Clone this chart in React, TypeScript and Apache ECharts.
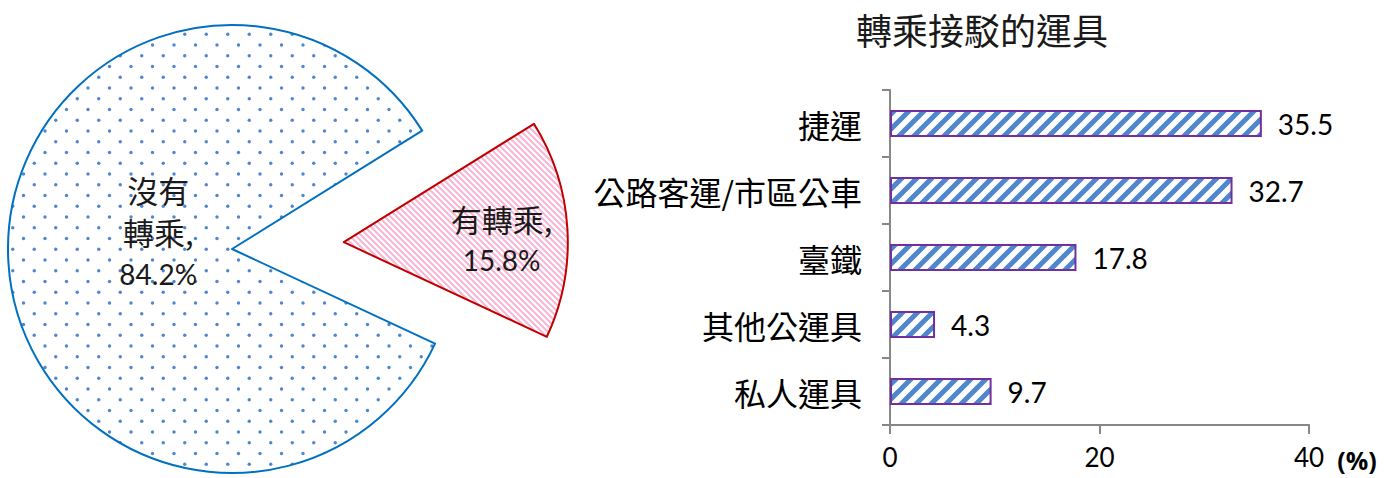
import React, { useEffect, useRef } from 'react';
import * as echarts from 'echarts';

const pieNames = ['有轉乘', '沒有轉乘'];
const pieValues = [15.8, 84.2];
const categories = ['捷運', '公路客運/市區公車', '臺鐵', '其他公運具', '私人運具'];
const barValues = [35.5, 32.7, 17.8, 4.3, 9.7];
const xTicks = [0, 20, 40];
const chartTitle = '轉乘接駁的運具';
const unitLabel = '(%)';

const CJK = "'Noto Sans CJK TC', sans-serif";
const NUM = "Lato, 'Noto Sans CJK TC', sans-serif";

function makeTile(w: number, h: number, draw: (ctx: CanvasRenderingContext2D) => void) {
  const c = document.createElement('canvas');
  c.width = w;
  c.height = h;
  const ctx = c.getContext('2d')!;
  ctx.fillStyle = '#ffffff';
  ctx.fillRect(0, 0, w, h);
  draw(ctx);
  return { image: c, repeat: 'repeat', imageWidth: w, imageHeight: h } as any;
}

function dotPattern() {
  return makeTile(43, 43, (ctx) => {
    ctx.fillStyle = '#4f86d0';
    const rows = [2, 12.75, 23.5, 34.25];
    rows.forEach((y, i) => {
      const x0 = i % 2 === 0 ? 2 : 12.75;
      [x0, x0 + 21.5].forEach((x) => {
        ctx.beginPath();
        ctx.arc(x, y, 1.7, 0, Math.PI * 2);
        ctx.fill();
      });
    });
  });
}

function pinkStripes() {
  return makeTile(6, 6, (ctx) => {
    ctx.strokeStyle = '#f8b6d5';
    ctx.lineWidth = 2;
    ctx.beginPath();
    ctx.moveTo(-1, -1); ctx.lineTo(7, 7);
    ctx.moveTo(5, -1); ctx.lineTo(7, 1);
    ctx.moveTo(-1, 5); ctx.lineTo(1, 7);
    ctx.stroke();
  });
}

function blueStripes() {
  return makeTile(15, 15, (ctx) => {
    ctx.strokeStyle = '#4f86cc';
    ctx.lineWidth = 5;
    ctx.beginPath();
    ctx.moveTo(-1, 16); ctx.lineTo(16, -1);
    ctx.moveTo(-3, 3); ctx.lineTo(3, -3);
    ctx.moveTo(12, 18); ctx.lineTo(18, 12);
    ctx.stroke();
  });
}

const pieRich = {
  c: { fontSize: 31, fontFamily: CJK, color: '#1a1a1a', lineHeight: 42 },
  n: { fontSize: 28, fontFamily: NUM, color: '#1a1a1a', lineHeight: 42 },
};

function pieLabel(p: any) {
  const name: string = p.name.length > 3 ? p.name.slice(0, 2) + '\n' + p.name.slice(2) : p.name;
  const lines = (name + ',').split('\n').map((s) => `{c|${s}}`).join('\n');
  return lines + '\n{n|' + Number(p.value).toFixed(1) + '%}';
}

function pieSeries(visibleIndex: number, center: number[], color: any, border: string, dx: number, dy: number) {
  return {
    type: 'pie',
    radius: 224,
    center,
    startAngle: 31.9,
    clockwise: true,
    silent: true,
    avoidLabelOverlap: false,
    emphasis: { disabled: true },
    labelLine: { show: false },
    labelLayout: { dx, dy },
    data: pieNames.map((name, i) =>
      i === visibleIndex
        ? {
            name,
            value: pieValues[i],
            itemStyle: { color, borderColor: border, borderWidth: 2 },
            label: { show: true, position: 'inside', formatter: pieLabel, rich: pieRich },
          }
        : {
            name,
            value: pieValues[i],
            itemStyle: { color: 'rgba(0,0,0,0)', borderWidth: 0 },
            label: { show: false },
          }
    ),
  };
}

export default function App() {
  const ref = useRef<HTMLDivElement>(null);
  useEffect(() => {
    document.body.style.margin = '0';
    const chart = echarts.init(ref.current!, undefined, { renderer: 'svg' });
    const axisColor = '#878787';
    chart.setOption({
      animation: false,
      graphic: [
        {
          type: 'text',
          x: 982,
          y: 29,
          style: {
            text: chartTitle,
            fontSize: 36,
            fontFamily: CJK,
            fill: '#1a1a1a',
            align: 'center',
            verticalAlign: 'middle',
          },
        },
        {
          type: 'text',
          x: 1357,
          y: 460,
          style: {
            text: unitLabel,
            fontSize: 25,
            fontWeight: 700,
            fontFamily: "'Open Sans', Lato, sans-serif",
            fill: '#000',
            align: 'center',
            verticalAlign: 'middle',
          },
        },
      ],
      grid: { left: 890, right: 80, top: 90, bottom: 53 },
      xAxis: {
        type: 'value',
        min: xTicks[0],
        max: xTicks[xTicks.length - 1],
        interval: xTicks[1] - xTicks[0],
        splitLine: { show: false },
        axisLine: { show: true, lineStyle: { color: axisColor, width: 2 } },
        axisTick: { show: true, length: 9, lineStyle: { color: axisColor, width: 2 } },
        axisLabel: { fontSize: 26, fontFamily: NUM, color: '#000', margin: 19 },
      },
      yAxis: {
        type: 'category',
        data: categories,
        inverse: true,
        axisLine: { show: true, lineStyle: { color: axisColor, width: 2 } },
        axisTick: { show: true, length: 8, lineStyle: { color: axisColor, width: 2 } },
        axisLabel: { fontSize: 32, fontFamily: CJK, color: '#000', margin: 28 },
      },
      series: [
        pieSeries(1, [232, 249], dotPattern(), '#0070c0', 41, -24),
        pieSeries(0, [343.8, 242.2], pinkStripes(), '#c00000', 43, 4),
        {
          type: 'bar',
          data: barValues,
          barWidth: 27,
          silent: true,
          itemStyle: { color: blueStripes(), borderColor: '#7030a0', borderWidth: 2 },
          label: {
            show: true,
            position: 'right',
            distance: 16,
            fontSize: 28,
            fontFamily: NUM,
            color: '#000',
            formatter: (p: any) => Number(p.value).toFixed(1),
          },
        },
      ],
    });
    return () => chart.dispose();
  }, []);
  return <div ref={ref} style={{ width: 1389, height: 478 }} />;
}
